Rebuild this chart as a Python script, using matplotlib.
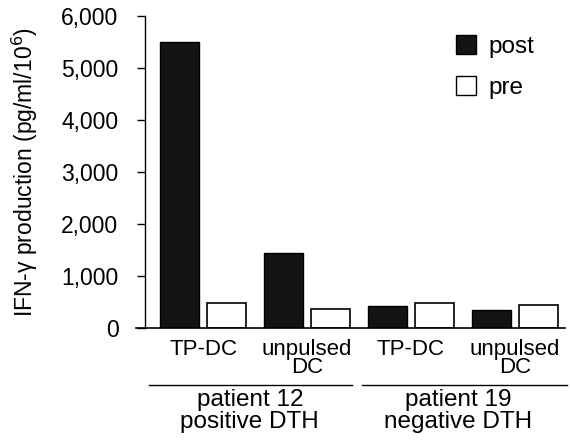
import matplotlib
matplotlib.use('Agg')
from matplotlib import pyplot as plt
from matplotlib.patches import Patch
from matplotlib.transforms import blended_transform_factory
import numpy as np

# data
conditions = ['TP-DC', 'unpulsed\nDC', 'TP-DC', 'unpulsed\nDC']
post = [5500, 1440, 420, 350]
pre = [480, 360, 480, 440]
patients = ['patient 12\npositive DTH', 'patient 19\nnegative DTH']

plt.rcParams['font.family'] = ['Liberation Sans', 'DejaVu Sans']

fig = plt.figure(figsize=(5.7, 4.42), dpi=100)
ax = fig.add_axes([0.254, 0.258, 0.737, 0.706])

x = np.arange(len(conditions))
w = 0.38
ax.bar(x - 0.225, post, w, color='#141414', edgecolor='#000000', linewidth=1.0)
ax.bar(x + 0.225, pre, w, color='white', edgecolor='#000000', linewidth=1.2)

ax.set_ylim(0, 6000)
ax.set_xlim(-0.56, 3.48)
ax.set_yticks(range(0, 6001, 1000))
ax.set_yticklabels(['{:,}'.format(v) for v in range(0, 6001, 1000)], fontsize=16.5)
ax.tick_params(axis='y', direction='out', length=6, width=1.0, pad=13)
ax.set_xticks(x)
ax.set_xticklabels(conditions, fontsize=16, linespacing=0.82)
ax.tick_params(axis='x', length=0, pad=8)
for s in ['top', 'right']:
    ax.spines[s].set_visible(False)
ax.spines['left'].set_linewidth(1.0)
ax.spines['bottom'].set_linewidth(1.2)
ax.spines['bottom'].set_bounds(-0.64, 3.48)

ax.set_ylabel('IFN-\u03b3 production (pg/ml/10$^6$)', fontsize=16.5)
ax.yaxis.set_label_coords(-0.25, 0.5)

# group lines and patient labels under the axis
trans = blended_transform_factory(ax.transData, ax.transAxes)
ax.plot([-0.52, 1.43], [-0.182, -0.182], color='black', lw=1.0,
        transform=trans, clip_on=False)
ax.plot([1.53, 3.5], [-0.182, -0.182], color='black', lw=1.0,
        transform=trans, clip_on=False)
for i, lab in enumerate(patients):
    ax.text(0.45 + 2 * i, -0.195, lab, transform=trans, ha='center',
            va='top', fontsize=17.5, linespacing=1.0)

handles = [Patch(facecolor='#141414', edgecolor='black', label='post'),
           Patch(facecolor='white', edgecolor='black', label='pre')]
ax.legend(handles=handles, loc='upper left', bbox_to_anchor=(0.74, 0.94),
          frameon=False, fontsize=17.5, handlelength=0.85, handleheight=0.85,
          handletextpad=0.5, labelspacing=0.75, borderpad=0, borderaxespad=0)

fig.savefig('out.png', dpi=100)
